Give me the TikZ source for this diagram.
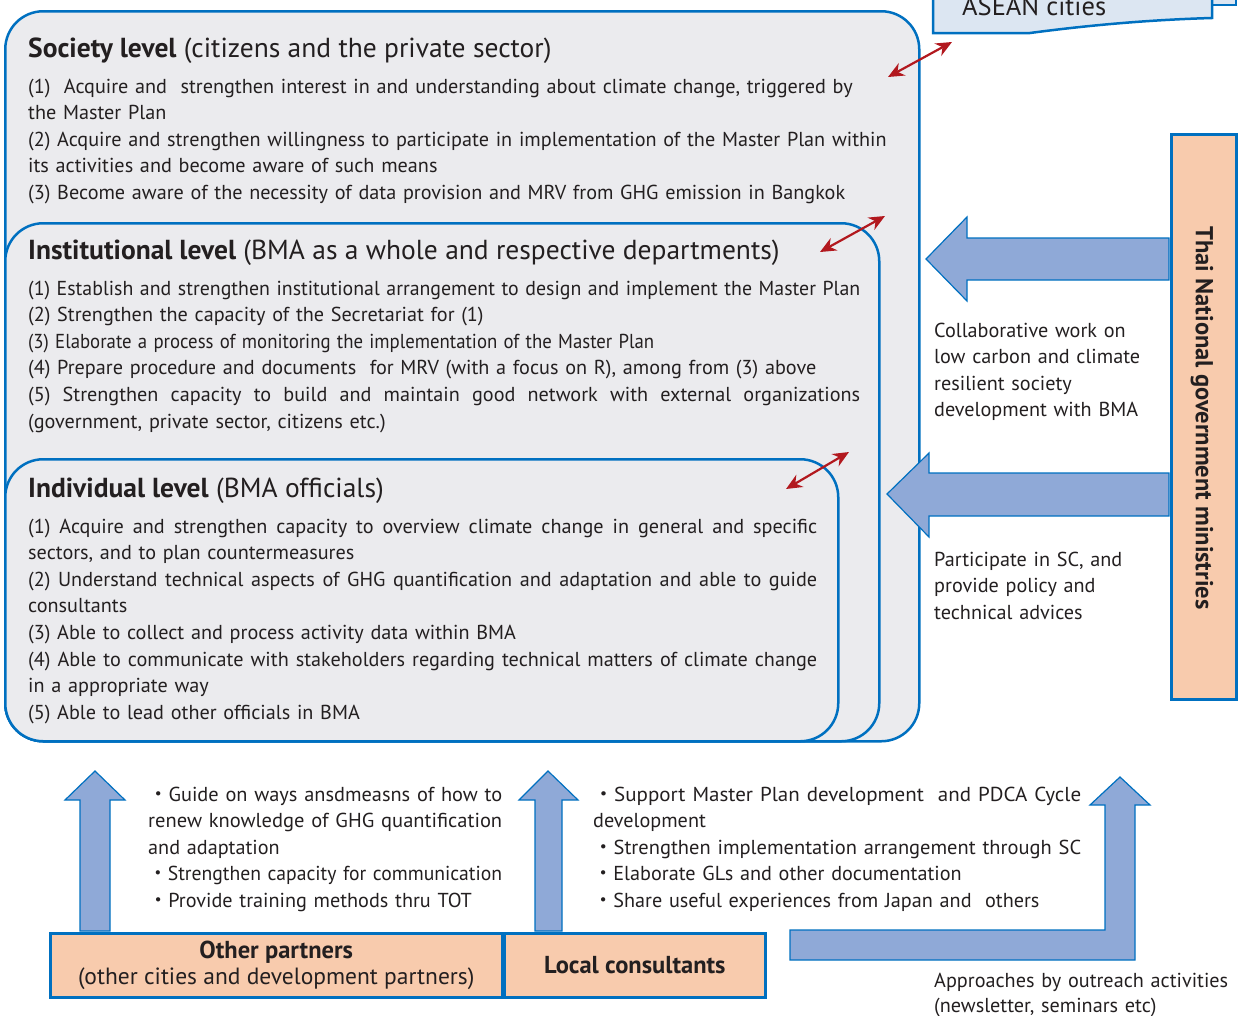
\documentclass[tikz,border=0pt]{standalone}
\usepackage{fontspec}
\setmainfont{PT Sans}
\newfontfamily\cjk{Noto Sans CJK JP}
\usepackage{graphicx}
\usetikzlibrary{arrows.meta}
\definecolor{bblue}{RGB}{0,112,192}
\definecolor{boxgray}{RGB}{235,235,238}
\definecolor{arrfill}{RGB}{143,169,215}
\definecolor{peach}{RGB}{248,203,173}
\definecolor{aseanfill}{RGB}{220,230,242}
\definecolor{darkred}{RGB}{178,24,30}
\definecolor{txt}{RGB}{35,31,32}
\newlength\fitlen
\newcommand\fitto[2]{\leavevmode\settowidth\fitlen{#2}\ifdim\fitlen>#1\relax\resizebox{#1}{\height}{#2}\else\hbox to #1{\spaceskip=\fontdimen2\font plus 1fil\relax\xspaceskip=\spaceskip #2}\fi}
\newcommand\scaleto[2]{\leavevmode\resizebox{#1}{\height}{#2}}
\newcommand\bul{{\cjk ・}}
\begin{document}
\begin{tikzpicture}[x=1pt,y=-1pt,
  lvlbox/.style={draw=bblue,line width=2.5pt,fill=boxgray,rounded corners=38pt,anchor=north west,inner sep=0},
  orgbox/.style={draw=bblue,line width=2.5pt,fill=peach,anchor=north west,inner sep=0},
  bigarr/.style={draw=bblue,line width=1.2pt,fill=arrfill,line join=miter},
  redarr/.style={draw=darkred,line width=2.2pt,{Stealth[length=16pt,width=14pt]}-{Stealth[length=16pt,width=14pt]}},
  head/.style={font=\fontsize{27.5}{32}\selectfont,text=txt,inner sep=0,anchor=base west},
  body/.style={font=\fontsize{20.2}{26.6}\selectfont,text=txt,inner sep=0,anchor=base west,align=left},
  orgtxt/.style={font=\fontsize{23.5}{26}\selectfont,text=txt,align=center,inner sep=0}
]
\useasboundingbox (0,0) rectangle (1257,1015);

% level boxes
\node[lvlbox,minimum width=914pt,minimum height=730pt] (society) at (4,10) {};
\node[lvlbox,minimum width=874pt,minimum height=518pt] (inst) at (4,222) {};
\node[lvlbox,minimum width=833pt,minimum height=282pt] (indiv) at (4,458) {};

% society text
\node[head] (sochead) at (28,57) {\textbf{Society level} (citizens and the private sector)};
\node[body,text width=880pt] (soctext) at (28,93) {(1)\ \ Acquire and\ \ strengthen interest in and understanding about climate change, triggered by\\
the Master Plan\\
(2) Acquire and strengthen willingness to participate in implementation of the Master Plan within\\
its activities and become aware of such means\\
(3) Become aware of the necessity of data provision and MRV from GHG emission in Bangkok};

% institutional text
\node[head] (insthead) at (28,259) {\textbf{Institutional level} (BMA as a whole and respective departments)};
\node[body,text width=850pt] (insttext) at (28,295) {\scaleto{832pt}{(1) Establish and strengthen institutional arrangement to design and implement the Master Plan}\\
(2) Strengthen the capacity of the Secretariat for (1)\\
\scaleto{626pt}{(3) Elaborate a process of monitoring the implementation of the Master Plan}\\
(4) Prepare procedure and documents\ \ for MRV (with a focus on R), among from (3) above\\
\fitto{832pt}{(5) Strengthen capacity to build and maintain good network with external organizations}\\
(government, private sector, citizens etc.)};

% individual text
\node[head] (indhead) at (28,497) {\textbf{Individual level} (BMA officials)};
\node[body,text width=805pt] (indtext) at (28,533) {\fitto{789pt}{(1) Acquire and strengthen capacity to overview climate change in general and specific}\\
sectors, and to plan countermeasures\\
\fitto{789pt}{(2) Understand technical aspects of GHG quantification and adaptation and able to guide}\\
consultants\\
(3) Able to collect and process activity data within BMA\\
\fitto{789pt}{(4) Able to communicate with stakeholders regarding technical matters of climate change}\\
in a appropriate way\\
(5) Able to lead other officials in BMA};

% red double arrows
\coordinate (r1a) at (888,77); \coordinate (r1b) at (952,42);
\coordinate (r2a) at (820,252); \coordinate (r2b) at (885,216);
\coordinate (r3a) at (786,489); \coordinate (r3b) at (849,452);
\draw[redarr] (r1a) -- (r1b);
\draw[redarr] (r2a) -- (r2b);
\draw[redarr] (r3a) -- (r3b);

% ASEAN cities (cut off at top)
\draw[draw=bblue,line width=2.5pt,fill=aseanfill] (1190,-20) -- (1236,-20) -- (1236,5) -- (1190,5) -- cycle;
\draw[draw=bblue,line width=2.5pt,fill=aseanfill] (933,-20) -- (933,33) -- (1030,33) .. controls (1075,27) and (1140,20) .. (1212,18) -- (1212,-20) -- cycle;
\node[head,font=\fontsize{26.5}{30}\selectfont] (asean) at (962,15) {ASEAN cities};

% big left arrows from Thai ministries
\draw[bigarr] (1169,238) -- (967,238) -- (967,217) -- (926,259) -- (967,301) -- (967,280) -- (1169,280) -- cycle;
\draw[bigarr] (1169,473) -- (929,473) -- (929,453) -- (887,494) -- (929,537) -- (929,516) -- (1169,516) -- cycle;

% Thai ministries box
\node[orgbox,minimum width=65pt,minimum height=565pt] (thai) at (1170,133) {};
\node[rotate=-90,font=\bfseries\fontsize{24.5}{28}\selectfont,text=txt,inner sep=0] (thaitxt) at (1202,418) {Thai National government ministries};

% right side texts
\node[body,text width=240pt] (collab) at (934,337) {Collaborative work on\\low carbon and climate\\resilient society\\development with BMA};
\node[body,text width=240pt] (partic) at (934,566) {Participate in SC, and\\provide policy and\\technical advices};

% up arrows
\draw[bigarr] (80,931) -- (80,800) -- (65,800) -- (95,771) -- (125,800) -- (110,800) -- (110,931) -- cycle;
\draw[bigarr] (535,931) -- (535,800) -- (519,800) -- (548,771) -- (578,800) -- (562,800) -- (562,931) -- cycle;
\draw[bigarr] (790,930) -- (1105,930) -- (1105,805) -- (1090,805) -- (1120,777) -- (1150,805) -- (1135,805) -- (1135,960) -- (790,960) -- cycle;

% bottom boxes
\node[orgbox,minimum width=452pt,minimum height=64pt] (other) at (49,932) {};
\node[orgtxt] (othertxt) at (other.center) {{\fontsize{24.5}{26}\selectfont\textbf{Other partners}}\\(other cities and development partners)};
\node[orgbox,minimum width=261pt,minimum height=64pt] (local) at (503,932) {};
\node[orgtxt,font=\bfseries\fontsize{24.5}{26}\selectfont] (localtxt) at (local.center) {Local consultants};

% bottom texts
\node[body,text width=370pt] (guide) at (148,801) {\scaleto{354pt}{\bul Guide on ways ansdmeasns of how to}\\
\scaleto{354pt}{renew knowledge of GHG quantification}\\
and adaptation\\
\scaleto{354pt}{\bul Strengthen capacity for communication}\\
\bul Provide training methods thru TOT};
\node[body,text width=510pt] (support) at (593,801) {\scaleto{488pt}{\bul Support Master Plan development\ \ and PDCA Cycle}\\
development\\
\scaleto{488pt}{\bul Strengthen implementation arrangement through SC}\\
\bul Elaborate GLs and other documentation\\
\bul Share useful experiences from Japan and\ \ others};
\node[body,text width=320pt,font=\fontsize{20.2}{25}\selectfont] (outreach) at (934,987) {\scaleto{294pt}{Approaches by outreach activities}\\(newsletter, seminars etc)};
\end{tikzpicture}
\end{document}
